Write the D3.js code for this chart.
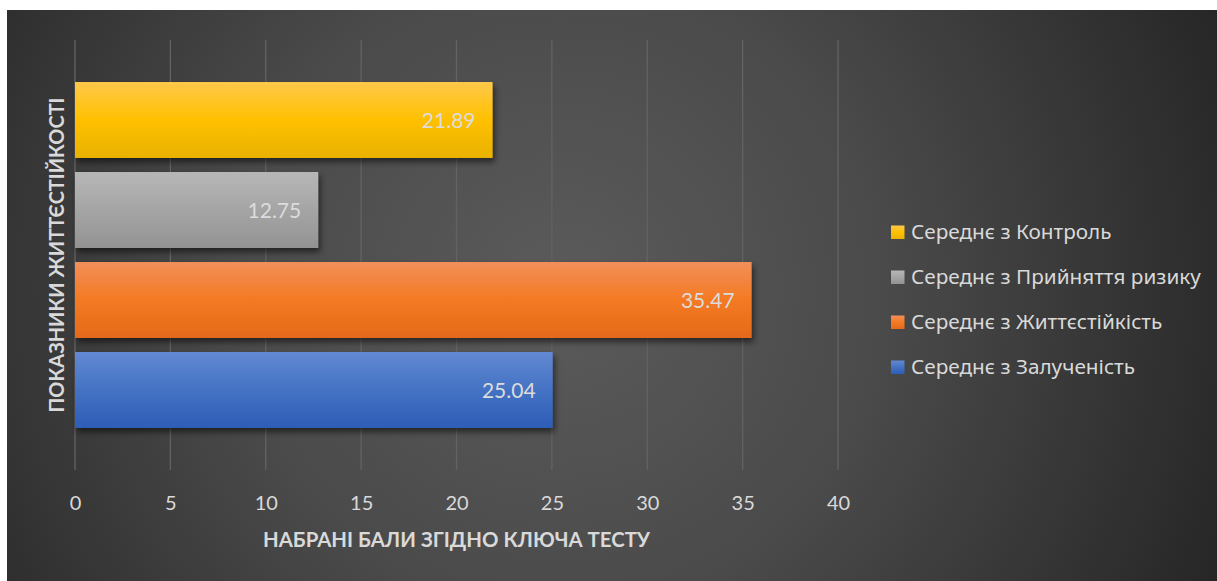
<!DOCTYPE html>
<html>
<head>
<meta charset="utf-8">
<script src="https://cdn.jsdelivr.net/npm/d3@7"></script>
<style>
  html, body { margin: 0; padding: 0; background: #ffffff; }
  svg { display: block; }
</style>
</head>
<body>
<svg id="chart" width="1217" height="581"></svg>
<script>
// Series (top to bottom as drawn) and their mean scores
const series = ["Середнє з Контроль", "Середнє з Прийняття ризику", "Середнє з Життєстійкість", "Середнє з Залученість"];
const values = [21.89, 12.75, 35.47, 25.04];
const xTicks = [0, 5, 10, 15, 20, 25, 30, 35, 40];
const xTitle = "НАБРАНІ БАЛИ ЗГІДНО КЛЮЧА ТЕСТУ";
const yTitle = "ПОКАЗНИКИ ЖИТТЄСТІЙКОСТІ";

// Bar fills: [top, middle, bottom] of the vertical gradient
const palette = [
  ["#ffc84a", "#ffc000", "#e8b200"],
  ["#b7b7b7", "#a5a5a5", "#939393"],
  ["#f28f5a", "#f47a22", "#e5691a"],
  ["#6389d2", "#4472c4", "#2e5db6"]
];

const svg = d3.select("#chart");
const defs = svg.append("defs");

// Background gradient of the chart area
const bg = defs.append("radialGradient")
  .attr("id", "bgGrad")
  .attr("gradientUnits", "userSpaceOnUse")
  .attr("cx", 560).attr("cy", 290).attr("r", 720);
bg.append("stop").attr("offset", "0%").attr("stop-color", "#5b5b5b");
bg.append("stop").attr("offset", "45%").attr("stop-color", "#4a4a4a");
bg.append("stop").attr("offset", "100%").attr("stop-color", "#262626");

palette.forEach((c, i) => {
  const g = defs.append("linearGradient")
    .attr("id", "barGrad" + i)
    .attr("x1", 0).attr("y1", 0).attr("x2", 0).attr("y2", 1);
  g.append("stop").attr("offset", "0%").attr("stop-color", c[0]);
  g.append("stop").attr("offset", "50%").attr("stop-color", c[1]);
  g.append("stop").attr("offset", "100%").attr("stop-color", c[2]);
});

const shadow = defs.append("filter")
  .attr("id", "barShadow")
  .attr("x", "-5%").attr("y", "-20%").attr("width", "115%").attr("height", "160%");
shadow.append("feDropShadow")
  .attr("dx", 2).attr("dy", 4).attr("stdDeviation", 3)
  .attr("flood-color", "#000").attr("flood-opacity", 0.55);

svg.append("rect")
  .attr("x", 7).attr("y", 10)
  .attr("width", 1217 - 7).attr("height", 581 - 10)
  .attr("fill", "url(#bgGrad)");

// Plot area
const plot = { left: 75, right: 838, top: 40, bottom: 470 };

const x = d3.scaleLinear().domain([0, 40]).range([plot.left, plot.right]);
const y = d3.scaleBand()
  .domain(series)
  .range([plot.top, plot.bottom])
  .paddingInner(0.156)
  .paddingOuter(0.467);

// Vertical gridlines
svg.append("g")
  .selectAll("line")
  .data(xTicks)
  .join("line")
  .attr("x1", d => x(d)).attr("x2", d => x(d))
  .attr("y1", plot.top).attr("y2", plot.bottom)
  .attr("stroke", "#636363")
  .attr("stroke-width", 1.3);

// X axis tick labels
const xAxis = d3.axisBottom(x).tickValues(xTicks).tickSize(0).tickPadding(0).tickFormat(d3.format("d"));
const xg = svg.append("g")
  .attr("transform", `translate(0, ${plot.bottom + 26})`)
  .call(xAxis);
xg.select(".domain").remove();
xg.selectAll("text")
  .attr("fill", "#d9d9d9")
  .attr("font-family", "Lato, 'Noto Sans', sans-serif")
  .attr("font-size", 20)
  .attr("dy", "0.7em");

// Bars
const bars = svg.append("g");
bars.selectAll("rect")
  .data(values)
  .join("rect")
  .attr("x", x(0))
  .attr("y", (d, i) => y(series[i]))
  .attr("width", d => x(d) - x(0))
  .attr("height", y.bandwidth())
  .attr("fill", (d, i) => `url(#barGrad${i})`)
  .attr("filter", "url(#barShadow)");

// Value labels inside bar ends
bars.selectAll("text")
  .data(values)
  .join("text")
  .attr("x", d => x(d) - 17)
  .attr("y", (d, i) => y(series[i]) + y.bandwidth() / 2)
  .attr("dy", "0.36em")
  .attr("text-anchor", "end")
  .attr("fill", "#dcdcdc")
  .attr("font-family", "Lato, 'Noto Sans', sans-serif")
  .attr("font-size", 21)
  .text(d => d3.format(".2f")(d));

// Axis titles
svg.append("text")
  .attr("x", (plot.left + plot.right) / 2)
  .attr("y", 540)
  .attr("dy", "0.36em")
  .attr("text-anchor", "middle")
  .attr("fill", "#d9d9d9")
  .attr("font-family", "Lato, 'Noto Sans', sans-serif")
  .attr("font-weight", "bold")
  .attr("font-size", 20)
  .attr("textLength", 387)
  .attr("lengthAdjust", "spacingAndGlyphs")
  .text(xTitle);

svg.append("text")
  .attr("transform", `translate(57, ${(plot.top + plot.bottom) / 2}) rotate(-90)`)
  .attr("dy", "0.36em")
  .attr("text-anchor", "middle")
  .attr("fill", "#d9d9d9")
  .attr("font-family", "Lato, 'Noto Sans', sans-serif")
  .attr("font-weight", "bold")
  .attr("font-size", 20)
  .attr("textLength", 315)
  .attr("lengthAdjust", "spacingAndGlyphs")
  .text(yTitle);

// Legend
const legend = svg.append("g").attr("transform", "translate(891, 232)");
const item = legend.selectAll("g")
  .data(series)
  .join("g")
  .attr("transform", (d, i) => `translate(0, ${i * 45})`);
item.append("rect")
  .attr("x", 0).attr("y", -6.5)
  .attr("width", 13.5).attr("height", 13.5)
  .attr("fill", (d, i) => `url(#barGrad${i})`);
const legendText = item.append("text")
  .attr("x", 20)
  .attr("dy", "0.36em")
  .attr("fill", "#d9d9d9")
  .attr("font-family", "'Noto Sans', Lato, sans-serif")
  .attr("font-size", 19)
  .text(d => d);

// Size legend labels so the longest one ends near the right edge of the chart
const widest = d3.max(legendText.nodes(), n => n.getComputedTextLength());
const legendSize = Math.max(16, Math.min(21, 19 * 290 / widest));
legendText.attr("font-size", legendSize);
</script>
</body>
</html>
